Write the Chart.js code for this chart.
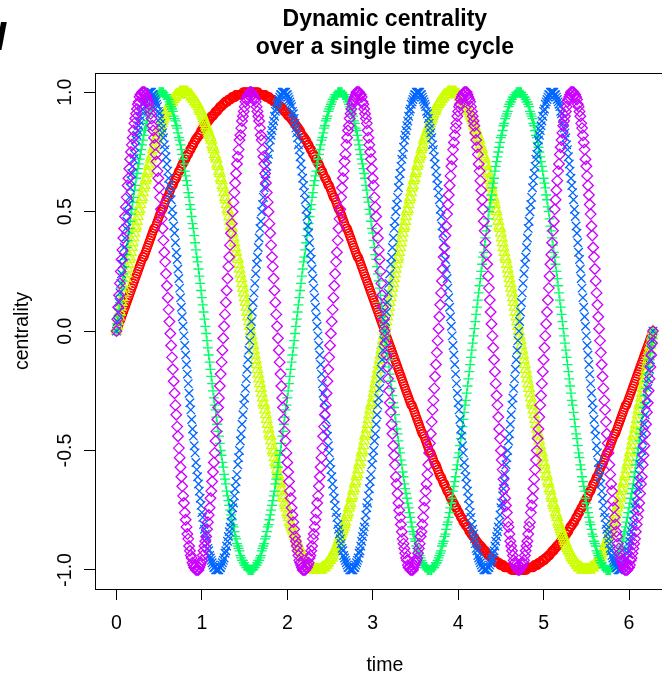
<!DOCTYPE html>
<html>
<head>
<meta charset="utf-8">
<script src="https://cdn.jsdelivr.net/npm/chart.js@4.4.1/dist/chart.umd.min.js"></script>
<style>
  html, body { margin: 0; padding: 0; background: #fff; overflow: hidden; width: 662px; height: 674px; }
  canvas { display: block; }
</style>
</head>
<body>
<canvas id="chart" width="682" height="674"></canvas>
<script>
// time grid over one cycle (0 .. 2*pi, step 0.01)
const time = [
0,0.01,0.02,0.03,0.04,0.05,0.06,0.07,0.08,0.09,0.1,0.11,0.12,0.13,0.14,0.15,0.16,0.17,0.18,0.19,
0.2,0.21,0.22,0.23,0.24,0.25,0.26,0.27,0.28,0.29,0.3,0.31,0.32,0.33,0.34,0.35,0.36,0.37,0.38,0.39,
0.4,0.41,0.42,0.43,0.44,0.45,0.46,0.47,0.48,0.49,0.5,0.51,0.52,0.53,0.54,0.55,0.56,0.57,0.58,0.59,
0.6,0.61,0.62,0.63,0.64,0.65,0.66,0.67,0.68,0.69,0.7,0.71,0.72,0.73,0.74,0.75,0.76,0.77,0.78,0.79,
0.8,0.81,0.82,0.83,0.84,0.85,0.86,0.87,0.88,0.89,0.9,0.91,0.92,0.93,0.94,0.95,0.96,0.97,0.98,0.99,
1,1.01,1.02,1.03,1.04,1.05,1.06,1.07,1.08,1.09,1.1,1.11,1.12,1.13,1.14,1.15,1.16,1.17,1.18,1.19,
1.2,1.21,1.22,1.23,1.24,1.25,1.26,1.27,1.28,1.29,1.3,1.31,1.32,1.33,1.34,1.35,1.36,1.37,1.38,1.39,
1.4,1.41,1.42,1.43,1.44,1.45,1.46,1.47,1.48,1.49,1.5,1.51,1.52,1.53,1.54,1.55,1.56,1.57,1.58,1.59,
1.6,1.61,1.62,1.63,1.64,1.65,1.66,1.67,1.68,1.69,1.7,1.71,1.72,1.73,1.74,1.75,1.76,1.77,1.78,1.79,
1.8,1.81,1.82,1.83,1.84,1.85,1.86,1.87,1.88,1.89,1.9,1.91,1.92,1.93,1.94,1.95,1.96,1.97,1.98,1.99,
2,2.01,2.02,2.03,2.04,2.05,2.06,2.07,2.08,2.09,2.1,2.11,2.12,2.13,2.14,2.15,2.16,2.17,2.18,2.19,
2.2,2.21,2.22,2.23,2.24,2.25,2.26,2.27,2.28,2.29,2.3,2.31,2.32,2.33,2.34,2.35,2.36,2.37,2.38,2.39,
2.4,2.41,2.42,2.43,2.44,2.45,2.46,2.47,2.48,2.49,2.5,2.51,2.52,2.53,2.54,2.55,2.56,2.57,2.58,2.59,
2.6,2.61,2.62,2.63,2.64,2.65,2.66,2.67,2.68,2.69,2.7,2.71,2.72,2.73,2.74,2.75,2.76,2.77,2.78,2.79,
2.8,2.81,2.82,2.83,2.84,2.85,2.86,2.87,2.88,2.89,2.9,2.91,2.92,2.93,2.94,2.95,2.96,2.97,2.98,2.99,
3,3.01,3.02,3.03,3.04,3.05,3.06,3.07,3.08,3.09,3.1,3.11,3.12,3.13,3.14,3.15,3.16,3.17,3.18,3.19,
3.2,3.21,3.22,3.23,3.24,3.25,3.26,3.27,3.28,3.29,3.3,3.31,3.32,3.33,3.34,3.35,3.36,3.37,3.38,3.39,
3.4,3.41,3.42,3.43,3.44,3.45,3.46,3.47,3.48,3.49,3.5,3.51,3.52,3.53,3.54,3.55,3.56,3.57,3.58,3.59,
3.6,3.61,3.62,3.63,3.64,3.65,3.66,3.67,3.68,3.69,3.7,3.71,3.72,3.73,3.74,3.75,3.76,3.77,3.78,3.79,
3.8,3.81,3.82,3.83,3.84,3.85,3.86,3.87,3.88,3.89,3.9,3.91,3.92,3.93,3.94,3.95,3.96,3.97,3.98,3.99,
4,4.01,4.02,4.03,4.04,4.05,4.06,4.07,4.08,4.09,4.1,4.11,4.12,4.13,4.14,4.15,4.16,4.17,4.18,4.19,
4.2,4.21,4.22,4.23,4.24,4.25,4.26,4.27,4.28,4.29,4.3,4.31,4.32,4.33,4.34,4.35,4.36,4.37,4.38,4.39,
4.4,4.41,4.42,4.43,4.44,4.45,4.46,4.47,4.48,4.49,4.5,4.51,4.52,4.53,4.54,4.55,4.56,4.57,4.58,4.59,
4.6,4.61,4.62,4.63,4.64,4.65,4.66,4.67,4.68,4.69,4.7,4.71,4.72,4.73,4.74,4.75,4.76,4.77,4.78,4.79,
4.8,4.81,4.82,4.83,4.84,4.85,4.86,4.87,4.88,4.89,4.9,4.91,4.92,4.93,4.94,4.95,4.96,4.97,4.98,4.99,
5,5.01,5.02,5.03,5.04,5.05,5.06,5.07,5.08,5.09,5.1,5.11,5.12,5.13,5.14,5.15,5.16,5.17,5.18,5.19,
5.2,5.21,5.22,5.23,5.24,5.25,5.26,5.27,5.28,5.29,5.3,5.31,5.32,5.33,5.34,5.35,5.36,5.37,5.38,5.39,
5.4,5.41,5.42,5.43,5.44,5.45,5.46,5.47,5.48,5.49,5.5,5.51,5.52,5.53,5.54,5.55,5.56,5.57,5.58,5.59,
5.6,5.61,5.62,5.63,5.64,5.65,5.66,5.67,5.68,5.69,5.7,5.71,5.72,5.73,5.74,5.75,5.76,5.77,5.78,5.79,
5.8,5.81,5.82,5.83,5.84,5.85,5.86,5.87,5.88,5.89,5.9,5.91,5.92,5.93,5.94,5.95,5.96,5.97,5.98,5.99,
6,6.01,6.02,6.03,6.04,6.05,6.06,6.07,6.08,6.09,6.1,6.11,6.12,6.13,6.14,6.15,6.16,6.17,6.18,6.19,
6.2,6.21,6.22,6.23,6.24,6.25,6.26,6.27,6.28
];

// centrality of node 1 (one oscillation per cycle)
const centrality1 = [
0,0.01,0.02,0.03,0.04,0.05,0.06,0.07,0.08,0.09,0.1,0.11,0.12,0.13,0.14,0.15,0.16,0.17,0.18,0.19,0.2,0.21,0.22,0.23,0.24,0.25,0.26,0.27,0.28,0.29,0.3,0.31,0.31,0.32,0.33,0.34,0.35,0.36,0.37,0.38,0.39,0.4,0.41,0.42,0.43,0.43,0.44,0.45,0.46,0.47,0.48,0.49,0.5,0.51,0.51,0.52,0.53,0.54,0.55,0.56,0.56,0.57,0.58,0.59,0.6,0.61,0.61,0.62,0.63,0.64,0.64,0.65,0.66,0.67,0.67,0.68,0.69,0.7,0.7,0.71,0.72,0.72,0.73,0.74,0.74,0.75,0.76,0.76,0.77,0.78,0.78,0.79,0.8,0.8,0.81,0.81,0.82,0.82,0.83,0.84,0.84,0.85,0.85,0.86,0.86,0.87,0.87,0.88,0.88,0.89,0.89,0.9,0.9,0.9,0.91,0.91,0.92,0.92,0.92,0.93,0.93,0.94,0.94,0.94,0.95,0.95,0.95,0.96,0.96,0.96,0.96,0.97,0.97,0.97,0.97,0.98,0.98,0.98,0.98,0.98,0.99,0.99,0.99,0.99,0.99,0.99,0.99,0.99,1,1,1,1,1,1,1,1,1,1,
1,1,1,1,1,1,1,1,1,0.99,0.99,0.99,0.99,0.99,0.99,0.99,0.99,0.98,0.98,0.98,0.98,0.98,0.97,0.97,0.97,0.97,0.96,0.96,0.96,0.96,0.95,0.95,0.95,0.94,0.94,0.94,0.93,0.93,0.92,0.92,0.92,0.91,0.91,0.9,0.9,0.9,0.89,0.89,0.88,0.88,0.87,0.87,0.86,0.86,0.85,0.85,0.84,0.84,0.83,0.82,0.82,0.81,0.81,0.8,0.8,0.79,0.78,0.78,0.77,0.76,0.76,0.75,0.74,0.74,0.73,0.72,0.72,0.71,0.7,0.7,0.69,0.68,0.67,0.67,0.66,0.65,0.64,0.64,0.63,0.62,0.61,0.61,0.6,0.59,0.58,0.57,0.56,0.56,0.55,0.54,0.53,0.52,0.51,0.51,0.5,0.49,0.48,0.47,0.46,0.45,0.44,0.43,0.43,0.42,0.41,0.4,0.39,0.38,0.37,0.36,0.35,0.34,0.33,0.32,0.31,0.31,0.3,0.29,0.28,0.27,0.26,0.25,0.24,0.23,0.22,0.21,0.2,0.19,0.18,0.17,0.16,0.15,0.14,0.13,0.12,0.11,0.1,0.09,0.08,0.07,0.06,0.05,0.04,0.03,0.02,0.01,0,
-0.01,-0.02,-0.03,-0.04,-0.05,-0.06,-0.07,-0.08,-0.09,-0.1,-0.11,-0.12,-0.13,-0.14,-0.15,-0.16,-0.17,-0.18,-0.19,-0.2,-0.21,-0.22,-0.23,-0.24,-0.25,-0.26,-0.27,-0.28,-0.29,-0.3,-0.31,-0.31,-0.32,-0.33,-0.34,-0.35,-0.36,-0.37,-0.38,-0.39,-0.4,-0.41,-0.42,-0.43,-0.43,-0.44,-0.45,-0.46,-0.47,-0.48,-0.49,-0.5,-0.51,-0.51,-0.52,-0.53,-0.54,-0.55,-0.56,-0.56,-0.57,-0.58,-0.59,-0.6,-0.61,-0.61,-0.62,-0.63,-0.64,-0.64,-0.65,-0.66,-0.67,-0.67,-0.68,-0.69,-0.7,-0.7,-0.71,-0.72,-0.72,-0.73,-0.74,-0.74,-0.75,-0.76,-0.76,-0.77,-0.78,-0.78,-0.79,-0.8,-0.8,-0.81,-0.81,-0.82,-0.82,-0.83,-0.84,-0.84,-0.85,-0.85,-0.86,-0.86,-0.87,-0.87,-0.88,-0.88,-0.89,-0.89,-0.9,-0.9,-0.9,-0.91,-0.91,-0.92,-0.92,-0.92,-0.93,-0.93,-0.94,-0.94,-0.94,-0.95,-0.95,-0.95,-0.96,-0.96,-0.96,-0.96,-0.97,-0.97,-0.97,-0.97,-0.98,-0.98,-0.98,-0.98,-0.98,-0.99,-0.99,-0.99,-0.99,-0.99,-0.99,-0.99,-0.99,-1,-1,-1,-1,-1,-1,-1,-1,-1,-1,
-1,-1,-1,-1,-1,-1,-1,-1,-1,-0.99,-0.99,-0.99,-0.99,-0.99,-0.99,-0.99,-0.99,-0.98,-0.98,-0.98,-0.98,-0.98,-0.97,-0.97,-0.97,-0.97,-0.96,-0.96,-0.96,-0.96,-0.95,-0.95,-0.95,-0.94,-0.94,-0.94,-0.93,-0.93,-0.92,-0.92,-0.92,-0.91,-0.91,-0.9,-0.9,-0.9,-0.89,-0.89,-0.88,-0.88,-0.87,-0.87,-0.86,-0.86,-0.85,-0.85,-0.84,-0.84,-0.83,-0.82,-0.82,-0.81,-0.81,-0.8,-0.8,-0.79,-0.78,-0.78,-0.77,-0.76,-0.76,-0.75,-0.74,-0.74,-0.73,-0.72,-0.72,-0.71,-0.7,-0.7,-0.69,-0.68,-0.67,-0.67,-0.66,-0.65,-0.64,-0.64,-0.63,-0.62,-0.61,-0.61,-0.6,-0.59,-0.58,-0.57,-0.56,-0.56,-0.55,-0.54,-0.53,-0.52,-0.51,-0.51,-0.5,-0.49,-0.48,-0.47,-0.46,-0.45,-0.44,-0.43,-0.43,-0.42,-0.41,-0.4,-0.39,-0.38,-0.37,-0.36,-0.35,-0.34,-0.33,-0.32,-0.31,-0.31,-0.3,-0.29,-0.28,-0.27,-0.26,-0.25,-0.24,-0.23,-0.22,-0.21,-0.2,-0.19,-0.18,-0.17,-0.16,-0.15,-0.14,-0.13,-0.12,-0.11,-0.1,-0.09,-0.08,-0.07,-0.06,-0.05,-0.04,-0.03,-0.02,-0.01,0
];

// centrality of node 2 (two oscillations per cycle)
const centrality2 = [
0,0.02,0.04,0.06,0.08,0.1,0.12,0.14,0.16,0.18,0.2,0.22,0.24,0.26,0.28,0.3,0.31,0.33,0.35,0.37,0.39,0.41,0.43,0.44,0.46,0.48,0.5,0.51,0.53,0.55,0.56,0.58,0.6,0.61,0.63,0.64,0.66,0.67,0.69,0.7,0.72,0.73,0.74,0.76,0.77,0.78,0.8,0.81,0.82,0.83,0.84,0.85,0.86,0.87,0.88,0.89,0.9,0.91,0.92,0.92,0.93,0.94,0.95,0.95,0.96,0.96,0.97,0.97,0.98,0.98,0.99,0.99,0.99,0.99,1,1,1,1,1,
1,1,1,1,1,0.99,0.99,0.99,0.99,0.98,0.98,0.97,0.97,0.96,0.96,0.95,0.95,0.94,0.93,0.92,0.92,0.91,0.9,0.89,0.88,0.87,0.86,0.85,0.84,0.83,0.82,0.81,0.8,0.78,0.77,0.76,0.74,0.73,0.72,0.7,0.69,0.67,0.66,0.64,0.63,0.61,0.6,0.58,0.56,0.55,0.53,0.51,0.5,0.48,0.46,0.44,0.43,0.41,0.39,0.37,0.35,0.33,0.31,0.3,0.28,0.26,0.24,0.22,0.2,0.18,0.16,0.14,0.12,0.1,0.08,0.06,0.04,0.02,0,
-0.02,-0.04,-0.06,-0.08,-0.1,-0.12,-0.14,-0.16,-0.18,-0.2,-0.22,-0.24,-0.26,-0.28,-0.3,-0.31,-0.33,-0.35,-0.37,-0.39,-0.41,-0.43,-0.44,-0.46,-0.48,-0.5,-0.51,-0.53,-0.55,-0.56,-0.58,-0.6,-0.61,-0.63,-0.64,-0.66,-0.67,-0.69,-0.7,-0.72,-0.73,-0.74,-0.76,-0.77,-0.78,-0.8,-0.81,-0.82,-0.83,-0.84,-0.85,-0.86,-0.87,-0.88,-0.89,-0.9,-0.91,-0.92,-0.92,-0.93,-0.94,-0.95,-0.95,-0.96,-0.96,-0.97,-0.97,-0.98,-0.98,-0.99,-0.99,-0.99,-0.99,-1,-1,-1,-1,-1,
-1,-1,-1,-1,-1,-0.99,-0.99,-0.99,-0.99,-0.98,-0.98,-0.97,-0.97,-0.96,-0.96,-0.95,-0.95,-0.94,-0.93,-0.92,-0.92,-0.91,-0.9,-0.89,-0.88,-0.87,-0.86,-0.85,-0.84,-0.83,-0.82,-0.81,-0.8,-0.78,-0.77,-0.76,-0.74,-0.73,-0.72,-0.7,-0.69,-0.67,-0.66,-0.64,-0.63,-0.61,-0.6,-0.58,-0.56,-0.55,-0.53,-0.51,-0.5,-0.48,-0.46,-0.44,-0.43,-0.41,-0.39,-0.37,-0.35,-0.33,-0.31,-0.3,-0.28,-0.26,-0.24,-0.22,-0.2,-0.18,-0.16,-0.14,-0.12,-0.1,-0.08,-0.06,-0.04,-0.02,0,
0.02,0.04,0.06,0.08,0.1,0.12,0.14,0.16,0.18,0.2,0.22,0.24,0.26,0.28,0.3,0.31,0.33,0.35,0.37,0.39,0.41,0.43,0.44,0.46,0.48,0.5,0.51,0.53,0.55,0.56,0.58,0.6,0.61,0.63,0.64,0.66,0.67,0.69,0.7,0.72,0.73,0.74,0.76,0.77,0.78,0.8,0.81,0.82,0.83,0.84,0.85,0.86,0.87,0.88,0.89,0.9,0.91,0.92,0.92,0.93,0.94,0.95,0.95,0.96,0.96,0.97,0.97,0.98,0.98,0.99,0.99,0.99,0.99,1,1,1,1,1,
1,1,1,1,1,0.99,0.99,0.99,0.99,0.98,0.98,0.97,0.97,0.96,0.96,0.95,0.95,0.94,0.93,0.92,0.92,0.91,0.9,0.89,0.88,0.87,0.86,0.85,0.84,0.83,0.82,0.81,0.8,0.78,0.77,0.76,0.74,0.73,0.72,0.7,0.69,0.67,0.66,0.64,0.63,0.61,0.6,0.58,0.56,0.55,0.53,0.51,0.5,0.48,0.46,0.44,0.43,0.41,0.39,0.37,0.35,0.33,0.31,0.3,0.28,0.26,0.24,0.22,0.2,0.18,0.16,0.14,0.12,0.1,0.08,0.06,0.04,0.02,0,
-0.02,-0.04,-0.06,-0.08,-0.1,-0.12,-0.14,-0.16,-0.18,-0.2,-0.22,-0.24,-0.26,-0.28,-0.3,-0.31,-0.33,-0.35,-0.37,-0.39,-0.41,-0.43,-0.44,-0.46,-0.48,-0.5,-0.51,-0.53,-0.55,-0.56,-0.58,-0.6,-0.61,-0.63,-0.64,-0.66,-0.67,-0.69,-0.7,-0.72,-0.73,-0.74,-0.76,-0.77,-0.78,-0.8,-0.81,-0.82,-0.83,-0.84,-0.85,-0.86,-0.87,-0.88,-0.89,-0.9,-0.91,-0.92,-0.92,-0.93,-0.94,-0.95,-0.95,-0.96,-0.96,-0.97,-0.97,-0.98,-0.98,-0.99,-0.99,-0.99,-0.99,-1,-1,-1,-1,-1,
-1,-1,-1,-1,-1,-0.99,-0.99,-0.99,-0.99,-0.98,-0.98,-0.97,-0.97,-0.96,-0.96,-0.95,-0.95,-0.94,-0.93,-0.92,-0.92,-0.91,-0.9,-0.89,-0.88,-0.87,-0.86,-0.85,-0.84,-0.83,-0.82,-0.81,-0.8,-0.78,-0.77,-0.76,-0.74,-0.73,-0.72,-0.7,-0.69,-0.67,-0.66,-0.64,-0.63,-0.61,-0.6,-0.58,-0.56,-0.55,-0.53,-0.51,-0.5,-0.48,-0.46,-0.44,-0.43,-0.41,-0.39,-0.37,-0.35,-0.33,-0.31,-0.3,-0.28,-0.26,-0.24,-0.22,-0.2,-0.18,-0.16,-0.14,-0.12,-0.1,-0.08,-0.06,-0.04,-0.02,0
];

// centrality of node 3 (three oscillations per cycle)
const centrality3 = [
0,0.03,0.06,0.09,0.12,0.15,0.18,0.21,0.24,0.27,0.3,0.32,0.35,0.38,0.41,0.43,0.46,0.49,0.51,0.54,0.56,0.59,0.61,0.64,0.66,0.68,0.7,0.72,0.74,0.76,0.78,0.8,0.82,0.84,0.85,0.87,0.88,0.9,0.91,0.92,0.93,0.94,0.95,0.96,0.97,0.98,0.98,0.99,0.99,0.99,1,1,1,
1,1,1,0.99,0.99,0.99,0.98,0.97,0.97,0.96,0.95,0.94,0.93,0.92,0.9,0.89,0.88,0.86,0.85,0.83,0.81,0.8,0.78,0.76,0.74,0.72,0.7,0.67,0.65,0.63,0.61,0.58,0.56,0.53,0.51,0.48,0.45,0.43,0.4,0.37,0.34,0.31,0.29,0.26,0.23,0.2,0.17,0.14,0.11,0.08,0.05,0.02,
-0.01,-0.04,-0.07,-0.1,-0.13,-0.16,-0.19,-0.22,-0.25,-0.28,-0.31,-0.33,-0.36,-0.39,-0.42,-0.44,-0.47,-0.5,-0.52,-0.55,-0.57,-0.6,-0.62,-0.64,-0.67,-0.69,-0.71,-0.73,-0.75,-0.77,-0.79,-0.81,-0.82,-0.84,-0.86,-0.87,-0.89,-0.9,-0.91,-0.92,-0.94,-0.95,-0.96,-0.96,-0.97,-0.98,-0.98,-0.99,-0.99,-1,-1,-1,-1,
-1,-1,-1,-0.99,-0.99,-0.98,-0.98,-0.97,-0.96,-0.96,-0.95,-0.94,-0.92,-0.91,-0.9,-0.89,-0.87,-0.86,-0.84,-0.82,-0.81,-0.79,-0.77,-0.75,-0.73,-0.71,-0.69,-0.67,-0.64,-0.62,-0.6,-0.57,-0.55,-0.52,-0.5,-0.47,-0.44,-0.42,-0.39,-0.36,-0.33,-0.31,-0.28,-0.25,-0.22,-0.19,-0.16,-0.13,-0.1,-0.07,-0.04,-0.01,
0.02,0.05,0.08,0.11,0.14,0.17,0.2,0.23,0.26,0.29,0.31,0.34,0.37,0.4,0.43,0.45,0.48,0.51,0.53,0.56,0.58,0.61,0.63,0.65,0.67,0.7,0.72,0.74,0.76,0.78,0.8,0.81,0.83,0.85,0.86,0.88,0.89,0.9,0.92,0.93,0.94,0.95,0.96,0.97,0.97,0.98,0.99,0.99,0.99,1,1,1,
1,1,1,0.99,0.99,0.99,0.98,0.98,0.97,0.96,0.95,0.94,0.93,0.92,0.91,0.9,0.88,0.87,0.85,0.84,0.82,0.8,0.78,0.76,0.74,0.72,0.7,0.68,0.66,0.64,0.61,0.59,0.56,0.54,0.51,0.49,0.46,0.43,0.41,0.38,0.35,0.32,0.3,0.27,0.24,0.21,0.18,0.15,0.12,0.09,0.06,0.03,0,
-0.03,-0.06,-0.09,-0.12,-0.15,-0.18,-0.21,-0.24,-0.27,-0.3,-0.32,-0.35,-0.38,-0.41,-0.43,-0.46,-0.49,-0.51,-0.54,-0.56,-0.59,-0.61,-0.64,-0.66,-0.68,-0.7,-0.72,-0.74,-0.76,-0.78,-0.8,-0.82,-0.84,-0.85,-0.87,-0.88,-0.9,-0.91,-0.92,-0.93,-0.94,-0.95,-0.96,-0.97,-0.98,-0.98,-0.99,-0.99,-0.99,-1,-1,-1,
-1,-1,-1,-0.99,-0.99,-0.99,-0.98,-0.97,-0.97,-0.96,-0.95,-0.94,-0.93,-0.92,-0.9,-0.89,-0.88,-0.86,-0.85,-0.83,-0.81,-0.8,-0.78,-0.76,-0.74,-0.72,-0.7,-0.67,-0.65,-0.63,-0.61,-0.58,-0.56,-0.53,-0.51,-0.48,-0.45,-0.43,-0.4,-0.37,-0.34,-0.31,-0.29,-0.26,-0.23,-0.2,-0.17,-0.14,-0.11,-0.08,-0.05,-0.02,
0.01,0.04,0.07,0.1,0.13,0.16,0.19,0.22,0.25,0.28,0.31,0.33,0.36,0.39,0.42,0.44,0.47,0.5,0.52,0.55,0.57,0.6,0.62,0.64,0.67,0.69,0.71,0.73,0.75,0.77,0.79,0.81,0.82,0.84,0.86,0.87,0.89,0.9,0.91,0.92,0.94,0.95,0.96,0.96,0.97,0.98,0.98,0.99,0.99,1,1,1,1,
1,1,1,0.99,0.99,0.98,0.98,0.97,0.96,0.96,0.95,0.94,0.92,0.91,0.9,0.89,0.87,0.86,0.84,0.82,0.81,0.79,0.77,0.75,0.73,0.71,0.69,0.67,0.64,0.62,0.6,0.57,0.55,0.52,0.5,0.47,0.44,0.42,0.39,0.36,0.33,0.31,0.28,0.25,0.22,0.19,0.16,0.13,0.1,0.07,0.04,0.01,
-0.02,-0.05,-0.08,-0.11,-0.14,-0.17,-0.2,-0.23,-0.26,-0.29,-0.31,-0.34,-0.37,-0.4,-0.43,-0.45,-0.48,-0.51,-0.53,-0.56,-0.58,-0.61,-0.63,-0.65,-0.67,-0.7,-0.72,-0.74,-0.76,-0.78,-0.8,-0.81,-0.83,-0.85,-0.86,-0.88,-0.89,-0.9,-0.92,-0.93,-0.94,-0.95,-0.96,-0.97,-0.97,-0.98,-0.99,-0.99,-0.99,-1,-1,-1,
-1,-1,-1,-0.99,-0.99,-0.99,-0.98,-0.98,-0.97,-0.96,-0.95,-0.94,-0.93,-0.92,-0.91,-0.9,-0.88,-0.87,-0.85,-0.84,-0.82,-0.8,-0.78,-0.76,-0.74,-0.72,-0.7,-0.68,-0.66,-0.64,-0.61,-0.59,-0.56,-0.54,-0.51,-0.49,-0.46,-0.43,-0.41,-0.38,-0.35,-0.32,-0.3,-0.27,-0.24,-0.21,-0.18,-0.15,-0.12,-0.09,-0.06,-0.03,0
];

// centrality of node 4 (four oscillations per cycle)
const centrality4 = [
0,0.04,0.08,0.12,0.16,0.2,0.24,0.28,0.31,0.35,0.39,0.43,0.46,0.5,0.53,0.56,0.6,0.63,0.66,0.69,0.72,0.74,0.77,0.8,0.82,0.84,0.86,0.88,0.9,0.92,0.93,0.95,0.96,0.97,0.98,0.99,0.99,1,1,1,
1,1,0.99,0.99,0.98,0.97,0.96,0.95,0.94,0.92,0.91,0.89,0.87,0.85,0.83,0.81,0.78,0.76,0.73,0.7,0.67,0.64,0.61,0.58,0.55,0.51,0.48,0.44,0.41,0.37,0.33,0.3,0.26,0.22,0.18,0.14,0.1,0.06,0.02,
-0.02,-0.06,-0.1,-0.14,-0.18,-0.22,-0.26,-0.3,-0.33,-0.37,-0.41,-0.44,-0.48,-0.51,-0.55,-0.58,-0.61,-0.64,-0.67,-0.7,-0.73,-0.76,-0.78,-0.81,-0.83,-0.85,-0.87,-0.89,-0.91,-0.92,-0.94,-0.95,-0.96,-0.97,-0.98,-0.99,-0.99,-1,-1,
-1,-1,-1,-0.99,-0.99,-0.98,-0.97,-0.96,-0.95,-0.93,-0.92,-0.9,-0.88,-0.86,-0.84,-0.82,-0.8,-0.77,-0.74,-0.72,-0.69,-0.66,-0.63,-0.6,-0.56,-0.53,-0.5,-0.46,-0.43,-0.39,-0.35,-0.31,-0.28,-0.24,-0.2,-0.16,-0.12,-0.08,-0.04,
0,0.04,0.08,0.12,0.16,0.2,0.24,0.28,0.31,0.35,0.39,0.43,0.46,0.5,0.53,0.56,0.6,0.63,0.66,0.69,0.72,0.74,0.77,0.8,0.82,0.84,0.86,0.88,0.9,0.92,0.93,0.95,0.96,0.97,0.98,0.99,0.99,1,1,1,
1,1,0.99,0.99,0.98,0.97,0.96,0.95,0.94,0.92,0.91,0.89,0.87,0.85,0.83,0.81,0.78,0.76,0.73,0.7,0.67,0.64,0.61,0.58,0.55,0.51,0.48,0.44,0.41,0.37,0.33,0.3,0.26,0.22,0.18,0.14,0.1,0.06,0.02,
-0.02,-0.06,-0.1,-0.14,-0.18,-0.22,-0.26,-0.3,-0.33,-0.37,-0.41,-0.44,-0.48,-0.51,-0.55,-0.58,-0.61,-0.64,-0.67,-0.7,-0.73,-0.76,-0.78,-0.81,-0.83,-0.85,-0.87,-0.89,-0.91,-0.92,-0.94,-0.95,-0.96,-0.97,-0.98,-0.99,-0.99,-1,-1,
-1,-1,-1,-0.99,-0.99,-0.98,-0.97,-0.96,-0.95,-0.93,-0.92,-0.9,-0.88,-0.86,-0.84,-0.82,-0.8,-0.77,-0.74,-0.72,-0.69,-0.66,-0.63,-0.6,-0.56,-0.53,-0.5,-0.46,-0.43,-0.39,-0.35,-0.31,-0.28,-0.24,-0.2,-0.16,-0.12,-0.08,-0.04,
0,0.04,0.08,0.12,0.16,0.2,0.24,0.28,0.31,0.35,0.39,0.43,0.46,0.5,0.53,0.56,0.6,0.63,0.66,0.69,0.72,0.74,0.77,0.8,0.82,0.84,0.86,0.88,0.9,0.92,0.93,0.95,0.96,0.97,0.98,0.99,0.99,1,1,1,
1,1,0.99,0.99,0.98,0.97,0.96,0.95,0.94,0.92,0.91,0.89,0.87,0.85,0.83,0.81,0.78,0.76,0.73,0.7,0.67,0.64,0.61,0.58,0.55,0.51,0.48,0.44,0.41,0.37,0.33,0.3,0.26,0.22,0.18,0.14,0.1,0.06,0.02,
-0.02,-0.06,-0.1,-0.14,-0.18,-0.22,-0.26,-0.3,-0.33,-0.37,-0.41,-0.44,-0.48,-0.51,-0.55,-0.58,-0.61,-0.64,-0.67,-0.7,-0.73,-0.76,-0.78,-0.81,-0.83,-0.85,-0.87,-0.89,-0.91,-0.92,-0.94,-0.95,-0.96,-0.97,-0.98,-0.99,-0.99,-1,-1,
-1,-1,-1,-0.99,-0.99,-0.98,-0.97,-0.96,-0.95,-0.93,-0.92,-0.9,-0.88,-0.86,-0.84,-0.82,-0.8,-0.77,-0.74,-0.72,-0.69,-0.66,-0.63,-0.6,-0.56,-0.53,-0.5,-0.46,-0.43,-0.39,-0.35,-0.31,-0.28,-0.24,-0.2,-0.16,-0.12,-0.08,-0.04,
0,0.04,0.08,0.12,0.16,0.2,0.24,0.28,0.31,0.35,0.39,0.43,0.46,0.5,0.53,0.56,0.6,0.63,0.66,0.69,0.72,0.74,0.77,0.8,0.82,0.84,0.86,0.88,0.9,0.92,0.93,0.95,0.96,0.97,0.98,0.99,0.99,1,1,1,
1,1,0.99,0.99,0.98,0.97,0.96,0.95,0.94,0.92,0.91,0.89,0.87,0.85,0.83,0.81,0.78,0.76,0.73,0.7,0.67,0.64,0.61,0.58,0.55,0.51,0.48,0.44,0.41,0.37,0.33,0.3,0.26,0.22,0.18,0.14,0.1,0.06,0.02,
-0.02,-0.06,-0.1,-0.14,-0.18,-0.22,-0.26,-0.3,-0.33,-0.37,-0.41,-0.44,-0.48,-0.51,-0.55,-0.58,-0.61,-0.64,-0.67,-0.7,-0.73,-0.76,-0.78,-0.81,-0.83,-0.85,-0.87,-0.89,-0.91,-0.92,-0.94,-0.95,-0.96,-0.97,-0.98,-0.99,-0.99,-1,-1,
-1,-1,-1,-0.99,-0.99,-0.98,-0.97,-0.96,-0.95,-0.93,-0.92,-0.9,-0.88,-0.86,-0.84,-0.82,-0.8,-0.77,-0.74,-0.72,-0.69,-0.66,-0.63,-0.6,-0.56,-0.53,-0.5,-0.46,-0.43,-0.39,-0.35,-0.31,-0.28,-0.24,-0.2,-0.16,-0.12,-0.08,-0.04,
0
];

// centrality of node 5 (five oscillations per cycle)
const centrality5 = [
0,0.05,0.1,0.15,0.2,0.25,0.3,0.34,0.39,0.43,0.48,0.52,0.56,0.61,0.64,0.68,0.72,0.75,0.78,0.81,0.84,0.87,0.89,0.91,0.93,0.95,0.96,0.98,0.99,0.99,1,1,
1,1,0.99,0.98,0.97,0.96,0.95,0.93,0.91,0.89,0.86,0.84,0.81,0.78,0.74,0.71,0.67,0.64,0.6,0.56,0.51,0.47,0.43,0.38,0.33,0.29,0.24,0.19,0.14,0.09,0.04,
-0.01,-0.06,-0.11,-0.16,-0.21,-0.26,-0.31,-0.35,-0.4,-0.44,-0.49,-0.53,-0.57,-0.61,-0.65,-0.69,-0.72,-0.76,-0.79,-0.82,-0.85,-0.87,-0.9,-0.92,-0.94,-0.95,-0.97,-0.98,-0.99,-0.99,-1,-1,
-1,-1,-0.99,-0.98,-0.97,-0.96,-0.94,-0.92,-0.9,-0.88,-0.86,-0.83,-0.8,-0.77,-0.74,-0.7,-0.67,-0.63,-0.59,-0.55,-0.51,-0.46,-0.42,-0.37,-0.32,-0.28,-0.23,-0.18,-0.13,-0.08,-0.03,
0.02,0.07,0.12,0.17,0.22,0.27,0.31,0.36,0.41,0.45,0.5,0.54,0.58,0.62,0.66,0.7,0.73,0.76,0.8,0.82,0.85,0.88,0.9,0.92,0.94,0.96,0.97,0.98,0.99,0.99,1,1,
1,0.99,0.99,0.98,0.97,0.96,0.94,0.92,0.9,0.88,0.85,0.82,0.8,0.76,0.73,0.7,0.66,0.62,0.58,0.54,0.5,0.45,0.41,0.36,0.31,0.27,0.22,0.17,0.12,0.07,0.02,
-0.03,-0.08,-0.13,-0.18,-0.23,-0.28,-0.32,-0.37,-0.42,-0.46,-0.51,-0.55,-0.59,-0.63,-0.67,-0.7,-0.74,-0.77,-0.8,-0.83,-0.86,-0.88,-0.9,-0.92,-0.94,-0.96,-0.97,-0.98,-0.99,-1,-1,
-1,-1,-0.99,-0.99,-0.98,-0.97,-0.95,-0.94,-0.92,-0.9,-0.87,-0.85,-0.82,-0.79,-0.76,-0.72,-0.69,-0.65,-0.61,-0.57,-0.53,-0.49,-0.44,-0.4,-0.35,-0.31,-0.26,-0.21,-0.16,-0.11,-0.06,-0.01,
0.04,0.09,0.14,0.19,0.24,0.29,0.33,0.38,0.43,0.47,0.51,0.56,0.6,0.64,0.67,0.71,0.74,0.78,0.81,0.84,0.86,0.89,0.91,0.93,0.95,0.96,0.97,0.98,0.99,1,1,
1,1,0.99,0.99,0.98,0.96,0.95,0.93,0.91,0.89,0.87,0.84,0.81,0.78,0.75,0.72,0.68,0.64,0.61,0.56,0.52,0.48,0.43,0.39,0.34,0.3,0.25,0.2,0.15,0.1,0.05,0,
-0.05,-0.1,-0.15,-0.2,-0.25,-0.3,-0.34,-0.39,-0.43,-0.48,-0.52,-0.56,-0.61,-0.64,-0.68,-0.72,-0.75,-0.78,-0.81,-0.84,-0.87,-0.89,-0.91,-0.93,-0.95,-0.96,-0.98,-0.99,-0.99,-1,-1,
-1,-1,-0.99,-0.98,-0.97,-0.96,-0.95,-0.93,-0.91,-0.89,-0.86,-0.84,-0.81,-0.78,-0.74,-0.71,-0.67,-0.64,-0.6,-0.56,-0.51,-0.47,-0.43,-0.38,-0.33,-0.29,-0.24,-0.19,-0.14,-0.09,-0.04,
0.01,0.06,0.11,0.16,0.21,0.26,0.31,0.35,0.4,0.44,0.49,0.53,0.57,0.61,0.65,0.69,0.72,0.76,0.79,0.82,0.85,0.87,0.9,0.92,0.94,0.95,0.97,0.98,0.99,0.99,1,1,
1,1,0.99,0.98,0.97,0.96,0.94,0.92,0.9,0.88,0.86,0.83,0.8,0.77,0.74,0.7,0.67,0.63,0.59,0.55,0.51,0.46,0.42,0.37,0.32,0.28,0.23,0.18,0.13,0.08,0.03,
-0.02,-0.07,-0.12,-0.17,-0.22,-0.27,-0.31,-0.36,-0.41,-0.45,-0.5,-0.54,-0.58,-0.62,-0.66,-0.7,-0.73,-0.76,-0.8,-0.82,-0.85,-0.88,-0.9,-0.92,-0.94,-0.96,-0.97,-0.98,-0.99,-0.99,-1,-1,
-1,-0.99,-0.99,-0.98,-0.97,-0.96,-0.94,-0.92,-0.9,-0.88,-0.85,-0.82,-0.8,-0.76,-0.73,-0.7,-0.66,-0.62,-0.58,-0.54,-0.5,-0.45,-0.41,-0.36,-0.31,-0.27,-0.22,-0.17,-0.12,-0.07,-0.02,
0.03,0.08,0.13,0.18,0.23,0.28,0.32,0.37,0.42,0.46,0.51,0.55,0.59,0.63,0.67,0.7,0.74,0.77,0.8,0.83,0.86,0.88,0.9,0.92,0.94,0.96,0.97,0.98,0.99,1,1,
1,1,0.99,0.99,0.98,0.97,0.95,0.94,0.92,0.9,0.87,0.85,0.82,0.79,0.76,0.72,0.69,0.65,0.61,0.57,0.53,0.49,0.44,0.4,0.35,0.31,0.26,0.21,0.16,0.11,0.06,0.01,
-0.04,-0.09,-0.14,-0.19,-0.24,-0.29,-0.33,-0.38,-0.43,-0.47,-0.51,-0.56,-0.6,-0.64,-0.67,-0.71,-0.74,-0.78,-0.81,-0.84,-0.86,-0.89,-0.91,-0.93,-0.95,-0.96,-0.97,-0.98,-0.99,-1,-1,
-1,-1,-0.99,-0.99,-0.98,-0.96,-0.95,-0.93,-0.91,-0.89,-0.87,-0.84,-0.81,-0.78,-0.75,-0.72,-0.68,-0.64,-0.61,-0.56,-0.52,-0.48,-0.43,-0.39,-0.34,-0.3,-0.25,-0.2,-0.15,-0.1,-0.05,0
];

const xTicks = [0, 1, 2, 3, 4, 5, 6];
const yTicks = [-1, -0.5, 0, 0.5, 1];
const yTickLabels = ['-1.0', '-0.5', '0.0', '0.5', '1.0'];
const titleLines = ['Dynamic centrality', 'over a single time cycle'];
const panelMark = 'I';

const series = [centrality1, centrality2, centrality3, centrality4, centrality5];
const seriesColors = ['#FF0000', '#CCFF00', '#00FF66', '#0066FF', '#CC00FF'];
const seriesMarkers = ['circle', 'triangle', 'cross', 'crossRot', 'rectRot'];
const markerRadius = [4.1, 6, 5, 6, 5.3];

const fontFamily = '"Liberation Sans", Arial, Helvetica, sans-serif';
const labelSize = 19.5;

// frame box, rotated y tick labels and the clipped panel mark
const framePlugin = {
  id: 'frame',
  afterDatasetsDraw(chart) {
    const { ctx, chartArea: a } = chart;
    ctx.save();
    ctx.strokeStyle = '#000';
    ctx.lineWidth = 1;
    ctx.strokeRect(Math.round(a.left) + 0.5, Math.round(a.top) + 0.5,
                   Math.round(a.right - a.left), Math.round(a.bottom - a.top));
    ctx.restore();
  },
  afterDraw(chart) {
    const { ctx, chartArea: a } = chart;
    const yScale = chart.scales.y;
    ctx.save();
    ctx.fillStyle = '#000';
    ctx.font = labelSize + 'px ' + fontFamily;
    ctx.textAlign = 'center';
    ctx.textBaseline = 'middle';
    yTicks.forEach((v, i) => {
      ctx.save();
      ctx.translate(a.left - 29, yScale.getPixelForValue(v));
      ctx.rotate(-Math.PI / 2);
      ctx.fillText(yTickLabels[i], 0, 0);
      ctx.restore();
    });
    ctx.font = 'italic bold 40px ' + fontFamily;
    ctx.textAlign = 'left';
    ctx.textBaseline = 'alphabetic';
    ctx.fillText(panelMark, -5, 50);
    ctx.restore();
  }
};

const datasets = series.map((vals, k) => ({
  data: time.map((t, i) => ({ x: t, y: vals[i] })),
  showLine: false,
  pointStyle: seriesMarkers[k],
  pointRadius: markerRadius[k],
  pointHoverRadius: markerRadius[k],
  pointBorderWidth: 1.3,
  pointBorderColor: seriesColors[k],
  pointBackgroundColor: 'rgba(0,0,0,0)',
  borderColor: seriesColors[k],
  backgroundColor: 'rgba(0,0,0,0)',
  order: series.length - k
}));

const axisGrid = {
  display: true,
  drawOnChartArea: false,
  drawTicks: true,
  tickLength: 11,
  color: '#000',
  tickColor: '#000',
  tickWidth: 1
};

new Chart(document.getElementById('chart'), {
  type: 'scatter',
  data: { datasets },
  options: {
    responsive: false,
    animation: false,
    devicePixelRatio: 1,
    events: [],
    layout: { padding: 0 },
    plugins: {
      legend: { display: false },
      tooltip: { enabled: false },
      title: {
        display: true,
        fullSize: false,
        text: titleLines,
        color: '#000',
        font: { family: fontFamily, size: 23, weight: 'bold', lineHeight: 1.2 },
        padding: { top: 6, bottom: 12 }
      }
    },
    scales: {
      x: {
        type: 'linear',
        min: -0.2513,
        max: 6.5345,
        afterBuildTicks: s => { s.ticks = xTicks.map(v => ({ value: v })); },
        afterFit: s => { s.height = 85; },
        grid: axisGrid,
        border: { display: false },
        ticks: {
          color: '#000',
          font: { family: fontFamily, size: labelSize },
          padding: 12,
          maxRotation: 0,
          autoSkip: false
        },
        title: {
          display: true,
          text: 'time',
          color: '#000',
          font: { family: fontFamily, size: labelSize, lineHeight: 0.82 },
          padding: { top: 0, bottom: 0 }
        }
      },
      y: {
        type: 'linear',
        min: -1.08,
        max: 1.08,
        afterBuildTicks: s => { s.ticks = yTicks.map(v => ({ value: v })); },
        afterFit: s => { s.width = 95; },
        grid: axisGrid,
        border: { display: false },
        ticks: { display: false },
        title: {
          display: true,
          text: 'centrality',
          color: '#000',
          font: { family: fontFamily, size: labelSize },
          padding: { top: 11, bottom: 0 }
        }
      }
    }
  },
  plugins: [framePlugin]
});
</script>
</body>
</html>
